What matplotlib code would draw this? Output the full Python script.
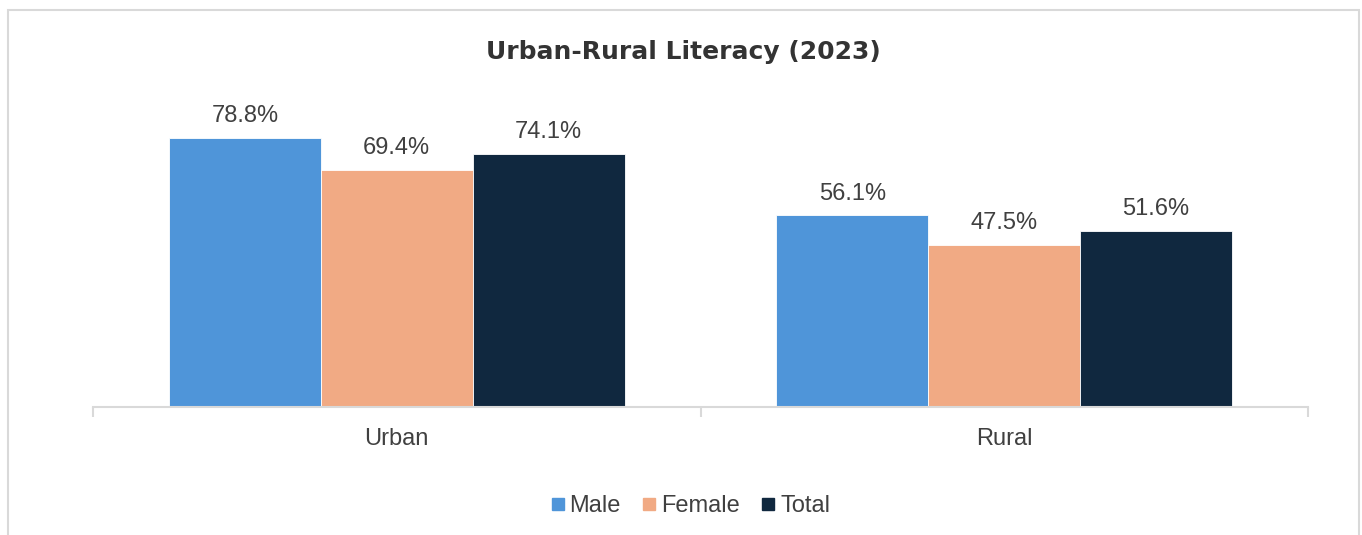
import matplotlib.pyplot as plt
import numpy as np
from matplotlib.patches import Rectangle
from matplotlib.lines import Line2D

categories = ["Urban", "Rural"]
series = ["Male", "Female", "Total"]
male = [78.8, 56.1]
female = [69.4, 47.5]
total = [74.1, 51.6]
colors = ["#4F95D9", "#F1AA84", "#10283F"]

W, H = 1362, 535
fig = plt.figure(figsize=(W / 100, H / 100), dpi=100)
plt.rcParams['font.family'] = ['Liberation Sans', 'DejaVu Sans']

# chart frame (bottom edge runs off the picture)
fig.add_artist(Rectangle((8 / W, -0.05), (1359 - 8) / W, (H - 10) / H + 0.05,
                         transform=fig.transFigure, fill=False,
                         edgecolor="#D9D9D9", linewidth=1.5))

ymax = 90
left, right, bottom = 93, 1308, 407
top = bottom - 3.414 * ymax
ax = fig.add_axes([left / W, 1 - bottom / H, (right - left) / W, (bottom - top) / H])

x = np.arange(len(categories))
width = 0.25
for i, (name, vals) in enumerate(zip(series, [male, female, total])):
    bars = ax.bar(x + (i - 1) * width, vals, width, color=colors[i], label=name,
                  edgecolor="white", linewidth=0.6)
    for b, v in zip(bars, vals):
        ax.text(b.get_x() + b.get_width() / 2, v + 3.2, f"{v:.1f}%",
                ha="center", va="bottom", fontsize=17, color="#404040")

ax.set_xlim(-0.5, len(categories) - 0.5)
ax.set_ylim(0, ymax)
ax.set_yticks([])
for s in ["top", "right", "left"]:
    ax.spines[s].set_visible(False)
ax.spines["bottom"].set_color("#D9D9D9")
ax.spines["bottom"].set_linewidth(1.5)
ax.set_xticks([-0.5, 0.5, 1.5], minor=False)
ax.set_xticklabels([])
ax.tick_params(axis="x", length=7, width=1.5, color="#D9D9D9")
for xi, c in zip(x, categories):
    ax.text(xi, -9.4, c, ha="center", va="center", fontsize=17, color="#404040")

fig.text(683 / W, 1 - 52 / H, "Urban-Rural Literacy (2023)", ha="center", va="center",
         fontsize=18, fontweight="bold", color="#333333", family=["DejaVu Sans"])

handles = [Line2D([], [], marker="s", linestyle="", markersize=8.5,
                  markerfacecolor=c, markeredgecolor=c) for c in colors]
fig.legend(handles, series, loc="center", bbox_to_anchor=(688 / W, 1 - 506 / H),
           ncol=3, frameon=False, fontsize=17, labelcolor="#404040",
           handletextpad=0.0, columnspacing=0.7, handlelength=1.0)

fig.savefig("out.png", dpi=100)
